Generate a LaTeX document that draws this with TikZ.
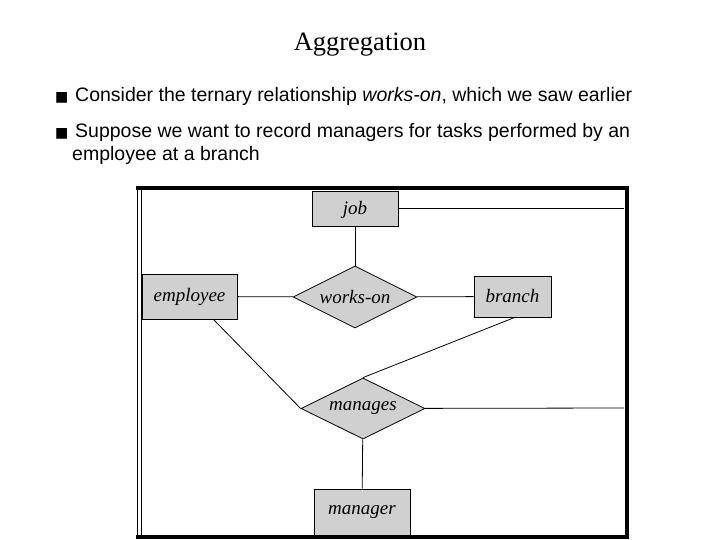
\documentclass[tikz,border=0pt]{standalone}
\usepackage{fontspec}
\setmainfont{Liberation Serif}
\newfontfamily\arial{Liberation Sans}
\newfontfamily\dejavu{DejaVu Sans}
\usetikzlibrary{shapes.geometric}
\definecolor{ergray}{HTML}{D0D0D0}
\tikzset{
  ent/.style={draw,fill=ergray,line width=1pt,inner sep=0pt,font=\fontsize{19}{22}\selectfont\itshape},
  rel/.style={draw,fill=ergray,diamond,aspect=2,inner sep=0pt,line width=0.8pt,font=\fontsize{19}{22}\selectfont\itshape},
  conn/.style={line width=0.8pt},
  bul/.style={anchor=base west,inner sep=0pt,font=\arial\fontsize{19.5}{22}\selectfont},
  sq/.style={anchor=base west,inner sep=0pt,font=\dejavu\fontsize{14}{14}\selectfont}
}
\begin{document}
\begin{tikzpicture}[x=1pt,y=-1pt]
\useasboundingbox (0,0) rectangle (720,540);
\fill[white] (0,0) rectangle (720,540);
\node[font=\fontsize{26.5}{30}\selectfont] (title) at (360,45) {Aggregation};
\node[sq] (b1) at (55,102) {■};
\node[bul] (t1) at (75,102) {Consider the ternary relationship \textit{works-on}, which we saw earlier};
\node[sq] (b2) at (55,138) {■};
\node[bul] (t2) at (75,138) {Suppose we want to record managers for tasks performed by an};
\node[bul] (t3) at (72,161) {employee at a branch};
% frame
\draw[line width=0.8pt] (137,186) -- (137,539);
\draw[line width=0.8pt] (141,188) -- (141,536);
\draw[line width=4pt] (136,188) -- (627,188) -- (627,537) -- (136,537);
\coordinate (rjob) at (624,208);
\coordinate (rman) at (624,408);
% nodes
\node[ent,minimum width=86,minimum height=35] (job) at (355,209.5) {job};
\node[ent,minimum width=95,minimum height=45] (employee) at (189.5,296.5) {employee};
\node[rel,minimum width=124,minimum height=62] (workson) at (355,297) {works-on};
\node[ent,minimum width=77,minimum height=41] (branch) at (512.5,296.5) {branch};
\node[rel,minimum width=124,minimum height=61] (manages) at (363,408.5) {manages};
\node[ent,minimum width=96,minimum height=46] (manager) at (362,512) {manager};
% connectors
\draw[conn] (job.east |- rjob) -- (rjob);
\draw[conn] (job) -- (workson);
\draw[conn] (employee) -- (workson);
\draw[conn] (workson) -- (branch);
\draw[conn] (manages) -- (rman);
\draw[conn] ([xshift=24pt]employee.south) -- (manages.west);
\draw[conn] ([xshift=2pt]branch.south) -- (manages.north);
\draw[conn] (manages) -- (manager);
\end{tikzpicture}
\end{document}
